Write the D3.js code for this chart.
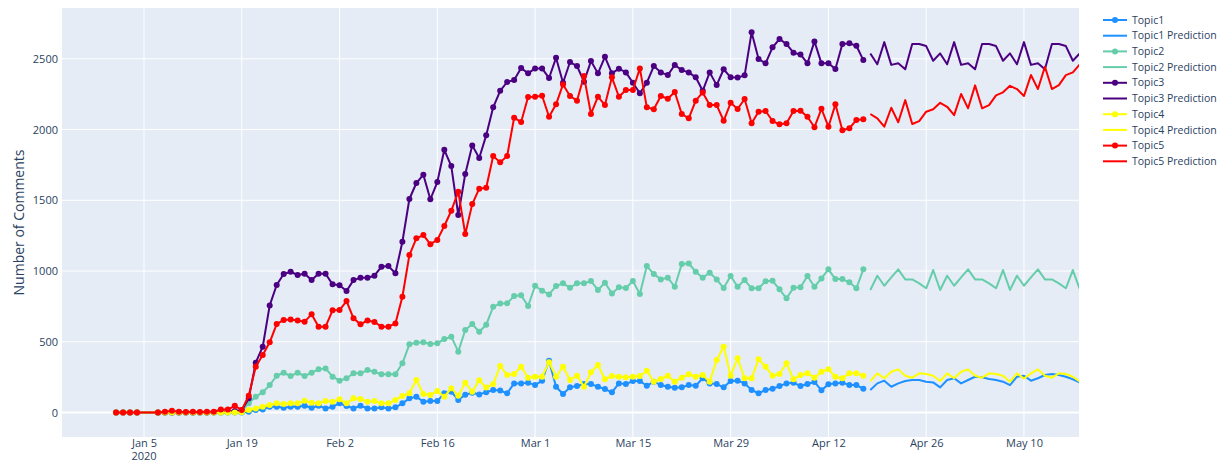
<!DOCTYPE html>
<html>
<head>
<meta charset="utf-8">
<script src="https://cdn.jsdelivr.net/npm/d3@7"></script>
<style>
  body { margin: 0; background: #fff; }
  text { font-family: "Open Sans", verdana, arial, sans-serif; }
</style>
</head>
<body>
<div id="chart"></div>
<script>
// observed days: Jan 1-4, then Jan 7 - Apr 17 ; predictions Apr 18 - May 18
var obsDates = d3.timeDay.range(new Date(2020, 0, 1), new Date(2020, 0, 5))
    .concat(d3.timeDay.range(new Date(2020, 0, 7), new Date(2020, 3, 18)));
var predDates = d3.timeDay.range(new Date(2020, 3, 18), new Date(2020, 4, 19));

var topic1 = [0,0,0,0, 0,0,0,0,0,0,0,0,0,0,0,0,0,
  5,18,22,41,41,34,41,41,48,34,48,29,
  41,65,46,29,48,29,29,37,29,37,65,100,112,76,81,81,136,147,88,126,140,128,143,159,155,136,206,206,211,
  194,225,366,182,131,178,187,201,201,182,166,143,206,201,223,223,189,218,194,182,175,178,194,189,242,206,201,178,223,225,206,
  159,136,159,168,187,206,211,187,201,216,157,199,206,211,194,194,168];
var topic2 = [0,0,0,0, 0,0,0,0,0,0,0,0,0,0,2,4,10,
  65,112,143,194,260,281,258,281,258,281,305,312,
  253,225,242,277,277,300,288,270,270,270,348,482,493,496,484,489,519,536,430,583,625,571,620,748,770,772,823,828,753,
  896,861,835,894,913,882,913,913,929,866,917,842,885,880,929,837,1035,979,941,953,889,1049,1054,995,953,988,941,880,965,889,936,
  878,878,927,931,871,807,882,885,965,889,948,1012,943,943,920,878,1012];
var topic3 = [0,0,0,0, 0,0,0,0,0,0,0,0,2,5,8,10,16,
  100,352,465,757,901,979,995,972,981,936,981,981,
  906,899,859,936,953,953,967,1031,1035,984,1207,1509,1622,1681,1507,1629,1857,1742,1396,1686,1888,1799,1959,2157,2274,2336,2350,2435,2397,
  2432,2432,2364,2507,2331,2477,2449,2338,2484,2397,2514,2397,2430,2404,2331,2256,2331,2449,2404,2385,2456,2420,2404,2369,2274,2404,2314,2426,2369,2367,2383,
  2687,2498,2468,2581,2640,2604,2543,2531,2468,2623,2468,2468,2428,2604,2609,2592,2491];
var topic4 = [0,0,0,0, 0,0,0,0,0,0,0,0,0,0,0,0,2,
  18,29,41,53,65,60,65,65,83,69,65,81,
  76,93,65,100,95,76,81,65,65,88,117,136,230,131,124,152,112,171,119,211,147,228,176,201,329,265,272,324,246,
  253,253,355,253,324,230,260,182,284,336,235,258,253,249,253,258,295,218,237,260,218,246,270,253,265,218,371,465,260,383,242,
  242,376,324,260,272,348,235,265,277,246,288,305,253,242,277,277,260];
var topic5 = [0,0,0,0, 0,5,12,5,4,5,4,5,6,21,21,47,18,
  119,324,406,496,625,654,658,651,642,694,607,607,
  722,724,788,666,623,651,640,607,607,630,818,1113,1231,1254,1190,1220,1318,1426,1561,1261,1473,1582,1589,1813,1768,1813,2084,2053,2230,
  2232,2239,2090,2178,2319,2237,2204,2378,2110,2232,2173,2369,2232,2279,2279,2432,2157,2143,2237,2218,2265,2110,2079,2204,2262,2173,2173,2062,2189,2145,2216,
  2044,2126,2131,2060,2037,2044,2131,2133,2090,2016,2147,2020,2178,1995,2009,2067,2072];

var pred1 = [159,206,225,182,206,223,230,230,218,213,178,230,242,206,230,253,249,237,230,218,194,253,260,225,242,265,272,265,253,235,211];
var pred2 = [866,967,896,955,1012,941,941,913,878,1007,866,967,896,955,1012,941,941,913,878,1007,866,967,896,955,1012,941,941,913,878,1007,870];
var pred3 = [2538,2461,2618,2457,2468,2426,2604,2604,2590,2486,2538,2461,2618,2457,2468,2426,2604,2604,2590,2486,2538,2461,2618,2457,2468,2426,2604,2604,2590,2486,2538];
var pred4 = [223,277,242,288,305,260,246,277,272,260,223,277,242,288,305,260,246,277,272,260,218,277,240,277,305,260,246,277,272,253,218];
var pred5 = [2110,2079,2020,2154,2051,2208,2039,2060,2126,2143,2189,2161,2102,2251,2150,2312,2150,2173,2242,2263,2309,2286,2237,2385,2286,2444,2286,2314,2385,2404,2461];

var topicNames = ["Topic1", "Topic2", "Topic3", "Topic4", "Topic5"];
var topicColors = ["#1e90ff", "#66cdaa", "#4b0082", "#ffff00", "#ff0000"];
var yTicks = [0, 500, 1000, 1500, 2000, 2500];
var xTicks = ["2020-01-05", "2020-01-19", "2020-02-02", "2020-02-16", "2020-03-01", "2020-03-15",
              "2020-03-29", "2020-04-12", "2020-04-26", "2020-05-10"];

var obsValues = [topic1, topic2, topic3, topic4, topic5];
var predValues = [pred1, pred2, pred3, pred4, pred5];

// trace list, in plotly order: TopicN, TopicN Prediction
var traces = [];
topicNames.forEach(function (n, i) {
    traces.push({name: n, color: topicColors[i], markers: true,
        pts: obsDates.map(function (d, j) { return {date: d, v: obsValues[i][j]}; })});
    traces.push({name: n + " Prediction", color: topicColors[i], markers: false,
        pts: predDates.map(function (d, j) { return {date: d, v: predValues[i][j]}; })});
});

var W = 1219, H = 462;
var pLeft = 62, pRight = 1079, pTop = 8, pBottom = 437;

var parseDay = d3.timeParse("%Y-%m-%d");
var x = d3.scaleTime()
    .domain([new Date(2019, 11, 24, 6, 14), new Date(2020, 4, 17, 21, 7)])
    .range([pLeft, pRight]);
var y = d3.scaleLinear().domain([-173, 2859]).range([pBottom, pTop]);

var svg = d3.select("#chart").append("svg")
    .attr("width", W).attr("height", H);

svg.append("rect")
    .attr("x", pLeft).attr("y", pTop)
    .attr("width", pRight - pLeft).attr("height", pBottom - pTop)
    .attr("fill", "#e5ecf6");

svg.append("clipPath").attr("id", "clip")
    .append("rect")
    .attr("x", pLeft).attr("y", pTop)
    .attr("width", pRight - pLeft).attr("height", pBottom - pTop);

// grid
var tickDates = xTicks.map(parseDay);
svg.append("g").selectAll("line").data(tickDates).enter().append("line")
    .attr("x1", function (d) { return x(d); }).attr("x2", function (d) { return x(d); })
    .attr("y1", pTop).attr("y2", pBottom)
    .attr("stroke", "#fff").attr("stroke-width", 1);
svg.append("g").selectAll("line").data(yTicks).enter().append("line")
    .attr("x1", pLeft).attr("x2", pRight)
    .attr("y1", function (d) { return y(d); }).attr("y2", function (d) { return y(d); })
    .attr("stroke", "#fff").attr("stroke-width", function (d) { return d === 0 ? 2 : 1; });

// axes (labels only, plotly style)
var yAxis = svg.append("g")
    .attr("transform", "translate(" + (pLeft - 4) + ",0)")
    .call(d3.axisLeft(y).tickValues(yTicks).tickSize(0).tickPadding(0).tickFormat(d3.format("d")));
yAxis.select(".domain").remove();
yAxis.selectAll("text").attr("fill", "#2a3f5f").style("font-size", "11px")
    .style("font-family", '"Open Sans", verdana, arial, sans-serif');

var fmt = d3.timeFormat("%b %-d");
var xAxis = svg.append("g")
    .attr("transform", "translate(0," + pBottom + ")")
    .call(d3.axisBottom(x).tickValues(tickDates).tickSize(0).tickPadding(2).tickFormat(fmt));
xAxis.select(".domain").remove();
xAxis.selectAll("text").attr("fill", "#2a3f5f").style("font-size", "11px")
    .style("font-family", '"Open Sans", verdana, arial, sans-serif');
svg.append("text")
    .attr("x", x(tickDates[0])).attr("y", 460)
    .attr("text-anchor", "middle").attr("fill", "#2a3f5f")
    .style("font-size", "11px")
    .text("2020");

svg.append("text")
    .attr("transform", "translate(24," + ((pTop + pBottom) / 2) + ") rotate(-90)")
    .attr("text-anchor", "middle").attr("fill", "#2a3f5f")
    .style("font-size", "14px")
    .text("Number of Comments");

// traces
var line = d3.line()
    .x(function (d) { return x(d.date); })
    .y(function (d) { return y(d.v); });

var plot = svg.append("g").attr("clip-path", "url(#clip)");
traces.forEach(function (t) {
    var g = plot.append("g");
    g.append("path").datum(t.pts)
        .attr("d", line)
        .attr("fill", "none")
        .attr("stroke", t.color)
        .attr("stroke-width", 2)
        .attr("stroke-linejoin", "round");
    if (t.markers) {
        g.selectAll("circle").data(t.pts).enter().append("circle")
            .attr("cx", function (d) { return x(d.date); })
            .attr("cy", function (d) { return y(d.v); })
            .attr("r", 3)
            .attr("fill", t.color);
    }
});

// legend
var legend = svg.append("g");
var items = legend.selectAll("g").data(traces).enter().append("g")
    .attr("transform", function (d, i) { return "translate(1103," + (20 + i * 15.7) + ")"; });
items.append("line")
    .attr("x1", 0).attr("x2", 24).attr("y1", 0).attr("y2", 0)
    .attr("stroke", function (d) { return d.color; })
    .attr("stroke-width", 2);
items.filter(function (d) { return d.markers; }).append("circle")
    .attr("cx", 12).attr("cy", 0).attr("r", 3)
    .attr("fill", function (d) { return d.color; });
items.append("text")
    .attr("x", 29).attr("y", 0).attr("dy", "0.35em")
    .attr("fill", "#2a3f5f")
    .style("font-size", "10.5px")
    .text(function (d) { return d.name; });
</script>
</body>
</html>
